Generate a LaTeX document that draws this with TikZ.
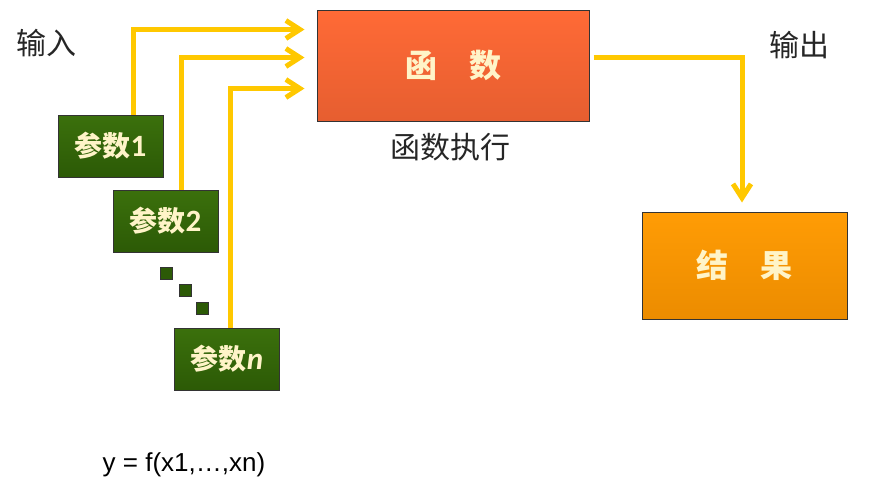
\documentclass[tikz,border=0pt]{standalone}
\usepackage{fontspec}
\setmainfont{Liberation Sans}
\newfontfamily\cjk{Noto Sans CJK SC}
\newfontfamily\calfont{Carlito}
\usepackage{xcolor}
\usetikzlibrary{positioning, arrows.meta, calc}

\definecolor{flowyellow}{HTML}{FFC800}
\definecolor{fnA}{HTML}{FF6A36}
\definecolor{fnB}{HTML}{E65E30}
\definecolor{resA}{HTML}{FF9C05}
\definecolor{resB}{HTML}{EC8C00}
\definecolor{parA}{HTML}{3B700C}
\definecolor{parB}{HTML}{2C5A06}
\definecolor{cream}{HTML}{FFF4C8}

\tikzset{
  box/.style={draw=black!80, line width=1pt, inner sep=0pt},
  parbox/.style={box, top color=parA, bottom color=parB, minimum width=105pt, minimum height=62pt,
    text=cream, font=\cjk\bfseries\fontsize{28}{28}\selectfont},
  flow/.style={draw=flowyellow, line width=5pt, -{Straight Barb[length=14pt, width=18pt]}},
  label text/.style={font=\cjk\fontsize{30}{30}\selectfont, text=black!85},
  dotbox/.style={draw=black!80, fill=parB, minimum size=12pt, inner sep=0pt}
}

\begin{document}
\begin{tikzpicture}[x=1pt, y=-1pt]
                    \useasboundingbox (0,0) rectangle (879,501);

                    \node[box, top color=fnA, bottom color=fnB, minimum width=272pt, minimum height=111pt, text=cream, font=\cjk\bfseries\fontsize{32}{32}\selectfont] (fn) at (453, 65.5) {函\hspace{1em}数};
                    \node[box, top color=resA, bottom color=resB, minimum width=205pt, minimum height=107pt, text=cream, font=\cjk\bfseries\fontsize{32}{32}\selectfont] (res) at (744.5, 265.5) {结\hspace{1em}果};
                    \node[parbox] (p1) at (110.5, 146) {参数{\calfont\bfseries\fontsize{31}{31}\selectfont 1}};
                    \node[parbox] (p2) at (165.5, 221) {参数{\calfont\bfseries\fontsize{31}{31}\selectfont 2}};
                    \node[parbox] (pn) at (227, 359) {参数{\calfont\bfseries\itshape\fontsize{31}{31}\selectfont n}};

                    \node[dotbox] (d1) at (166, 273.5) {};
                    \node[dotbox] (d2) at (185, 290.5) {};
                    \node[dotbox] (d3) at (202.5, 308.5) {};

                    \node[label text] (input) at (46.5, 43) {输入};
                    \node[label text] (output) at (799.5, 45) {输出};
                    \node[label text] (exec) at (450.5, 147) {函数执行};
                    \node[font=\fontsize{26}{26}\selectfont] (formula) at (184, 465) {y = f(x1,\ldots,xn)};

                    \coordinate (in1) at ($(fn.north west)+(-12, 20)$);
                    \coordinate (in2) at ($(fn.north west)+(-12, 48)$);
                    \coordinate (in3) at ($(fn.north west)+(-12, 79)$);

                    \draw[flow] ($(p1.north)+(22.5, 0)$) |- (in1);
                    \draw[flow] ($(p2.north)+(15.5, 0)$) |- (in2);
                    \draw[flow] ($(pn.north)+(3, 0)$) |- (in3);
                    \draw[flow] ($(fn.east)+(4, -8.5)$) -| ($(res.north)+(-2.5, -9)$);
                \end{tikzpicture}
\end{document}
